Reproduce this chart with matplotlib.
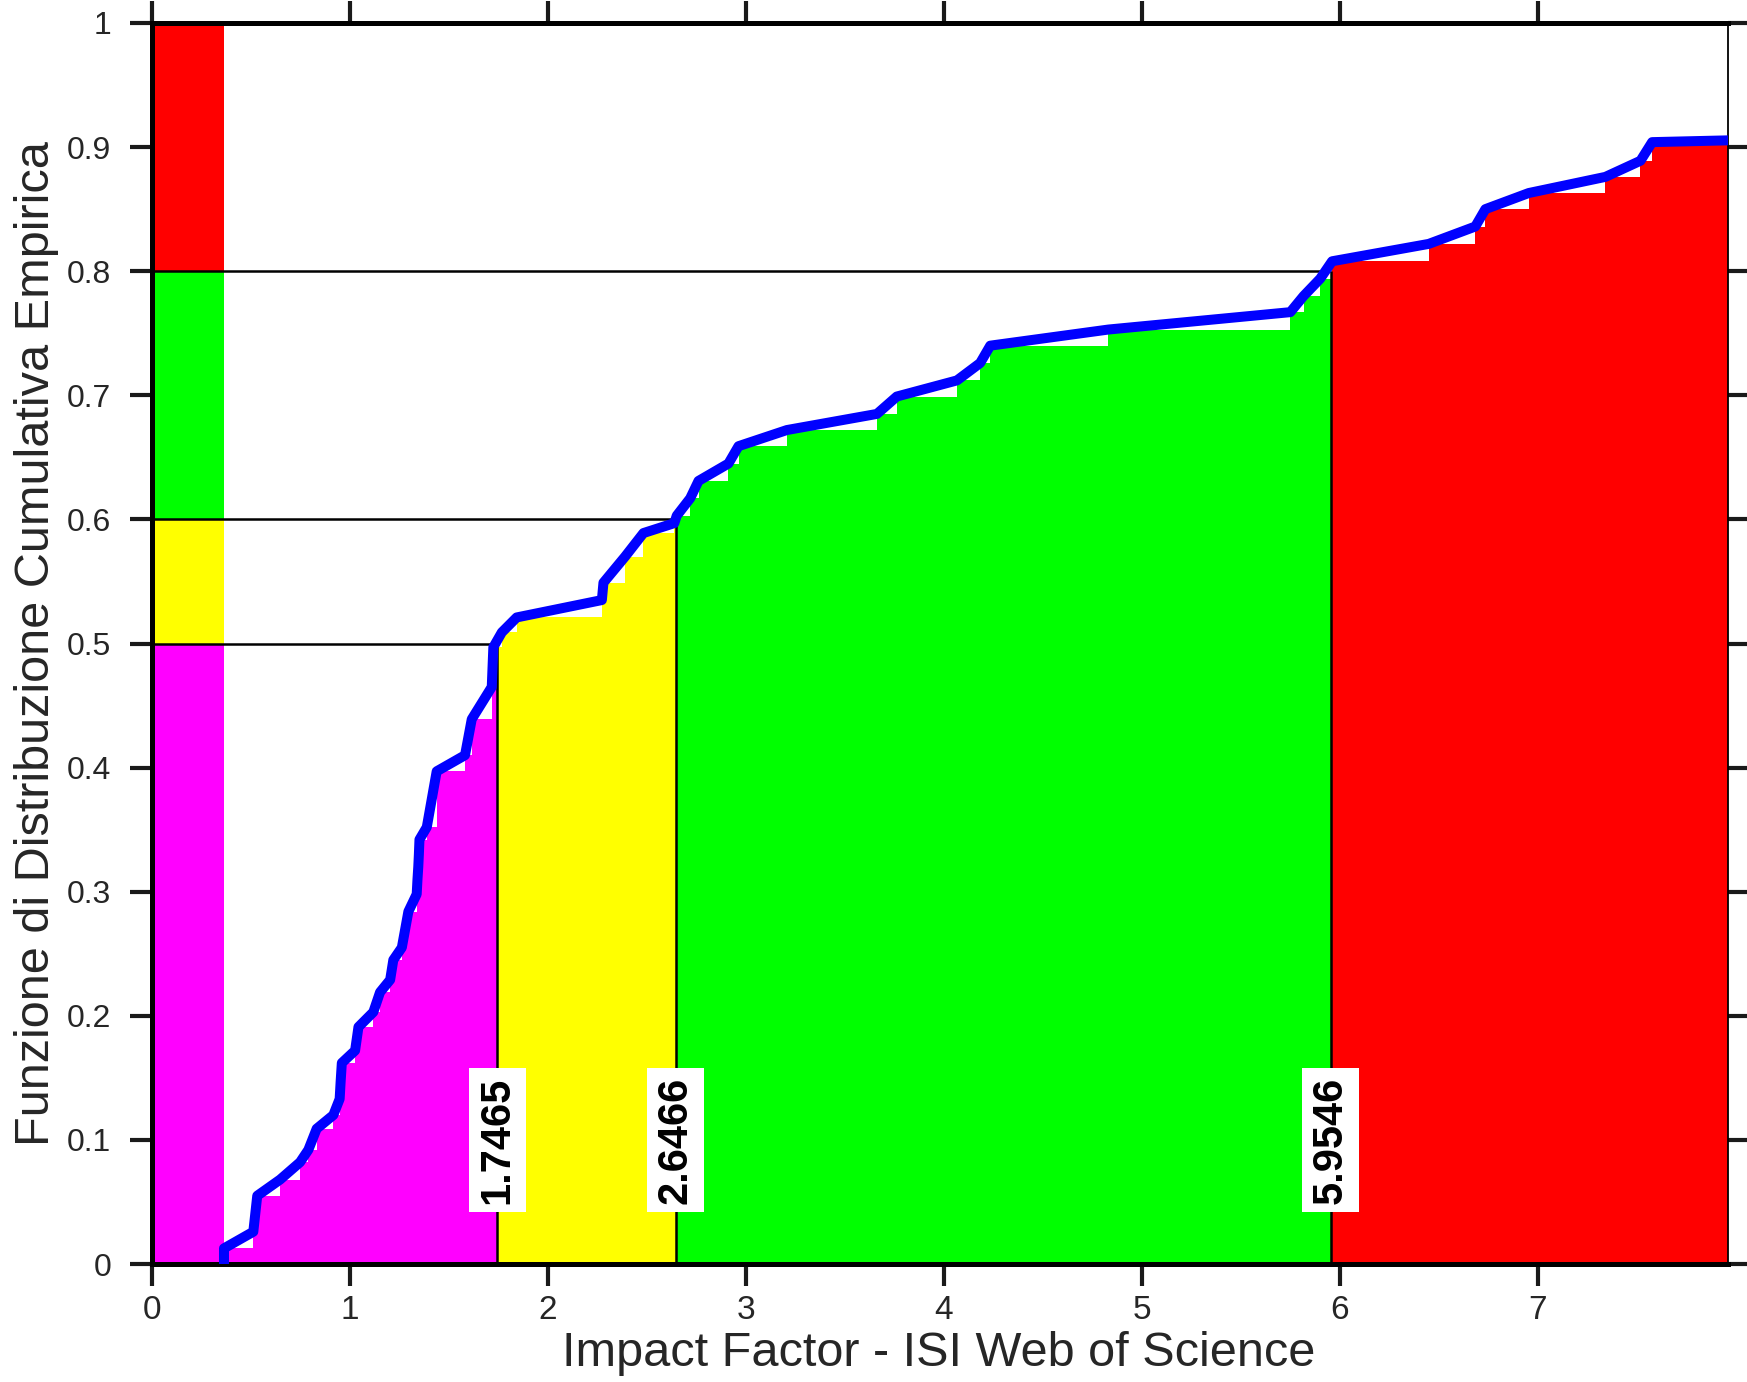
import matplotlib
matplotlib.use("Agg")
import matplotlib.pyplot as plt
from matplotlib.ticker import FormatStrFormatter

plt.rcParams['font.family'] = ['Liberation Sans', 'DejaVu Sans']

# ECDF vertices (impact factor, cumulative fraction)
impact_factor = [0.366, 0.366, 0.514, 0.534, 0.649, 0.750, 0.792, 0.834, 0.918, 0.950,
                 0.955, 0.961, 1.028, 1.045, 1.120, 1.154, 1.205, 1.221, 1.264, 1.280,
                 1.297, 1.339, 1.343, 1.347, 1.350, 1.353, 1.390, 1.440, 1.583, 1.617,
                 1.718, 1.726, 1.769, 1.844, 2.274, 2.282, 2.391, 2.484, 2.640, 2.652,
                 2.720, 2.762, 2.913, 2.964, 3.208, 3.663, 3.763, 4.067, 4.184, 4.235,
                 4.832, 5.750, 5.817, 5.901, 5.961, 6.449, 6.684, 6.735, 6.954, 7.341,
                 7.518, 7.577, 11.30]
ecdf_value = [0.000, 0.0126, 0.026, 0.055, 0.068, 0.082, 0.092, 0.109, 0.120, 0.133,
              0.147, 0.162, 0.172, 0.191, 0.203, 0.219, 0.229, 0.245, 0.255, 0.269,
              0.284, 0.298, 0.310, 0.320, 0.330, 0.342, 0.352, 0.397, 0.410, 0.439,
              0.465, 0.497, 0.509, 0.521, 0.535, 0.549, 0.570, 0.589, 0.597, 0.603,
              0.617, 0.631, 0.645, 0.659, 0.672, 0.685, 0.699, 0.712, 0.726, 0.740,
              0.753, 0.767, 0.780, 0.794, 0.808, 0.822, 0.836, 0.850, 0.863, 0.876,
              0.889, 0.904, 0.918]

# quantiles shown on the chart
quantile_probs = [0.5, 0.6, 0.8]
quantile_values = [1.7465, 2.6466, 5.9546]
section_colors = ['#FF00FF', '#FFFF00', '#00FF00', '#FF0000']
x_max = 7.96
x_ticks = [0, 1, 2, 3, 4, 5, 6, 7]
y_ticks = [0, 0.1, 0.2, 0.3, 0.4, 0.5, 0.6, 0.7, 0.8, 0.9, 1.0]
x_label = 'Impact Factor - ISI Web of Science'
y_label = 'Funzione di Distribuzione Cumulativa Empirica'

W, H = 1747, 1382
fig = plt.figure(figsize=(W / 100, H / 100), dpi=100)
L, R, T, B = 151.5, 1728, 23, 1264
ax = fig.add_axes([L / W, 1 - B / H, (R - L) / W, (B - T) / H])


def level_at(xq):
    lv = 0.0
    for xv, fv in zip(impact_factor, ecdf_value):
        if xv <= xq:
            lv = fv
    return lv


# coloured step areas per section
bounds = [impact_factor[0]] + quantile_values + [x_max]
for i, col in enumerate(section_colors):
    a, b = bounds[i], bounds[i + 1]
    xs = [a]
    fs = [level_at(a)]
    for xv, fv in zip(impact_factor, ecdf_value):
        if a < xv < b:
            xs.append(xv)
            fs.append(fv)
    xs.append(b)
    fs.append(fs[-1])
    ax.fill_between(xs, 0, fs, step='post', color=col, linewidth=0, zorder=1)

# left colour stripe
band_edges = [0.0] + quantile_probs + [1.0]
for i, col in enumerate(section_colors):
    ax.fill_between([0, impact_factor[0]], band_edges[i], band_edges[i + 1],
                    color=col, linewidth=0, zorder=1)

# quantile guide lines
for p, q in zip(quantile_probs, quantile_values):
    ax.plot([0, q], [p, p], color='black', lw=1.8, zorder=2, solid_capstyle='butt')
    ax.plot([q, q], [0, p], color='black', lw=1.8, zorder=2, solid_capstyle='butt')

# ECDF curve
ax.plot(impact_factor, ecdf_value, color='#0000FF', lw=7.2, zorder=4,
        solid_joinstyle='round', solid_capstyle='butt')

# quantile labels
for q in quantile_values:
    ax.text(q, 0.1, f'{q:.4f}', rotation=90, ha='center', va='center',
            fontsize=30, fontweight='bold', color='black', zorder=5,
            bbox=dict(facecolor='white', edgecolor='none', boxstyle='square,pad=0.2'))

ax.set_xlim(0, x_max)
ax.set_ylim(0, 1)
ax.set_xticks(x_ticks)
ax.set_yticks(y_ticks)
ax.yaxis.set_major_formatter(FormatStrFormatter('%g'))
ax.tick_params(direction='out', length=16, width=3, top=True, right=True,
               labelcolor='#262626', color='#1a1a1a')
ax.tick_params(axis='x', labelsize=24, pad=6.5)
ax.tick_params(axis='y', labelsize=23, pad=13)
for side in ['left', 'top', 'bottom']:
    ax.spines[side].set_linewidth(3.6)
ax.spines['right'].set_linewidth(1.3)

ax.set_xlabel(x_label, fontsize=35, color='#262626')
ax.set_ylabel(y_label, fontsize=35, color='#262626')
ax.xaxis.set_label_coords(0.4993, (B - 1354) / (B - T))
ax.xaxis.label.set_va('center')
ax.yaxis.set_label_coords((37 - L) / (R - L), 0.5)
ax.yaxis.label.set_va('center')

fig.savefig('out.png', dpi=100)
